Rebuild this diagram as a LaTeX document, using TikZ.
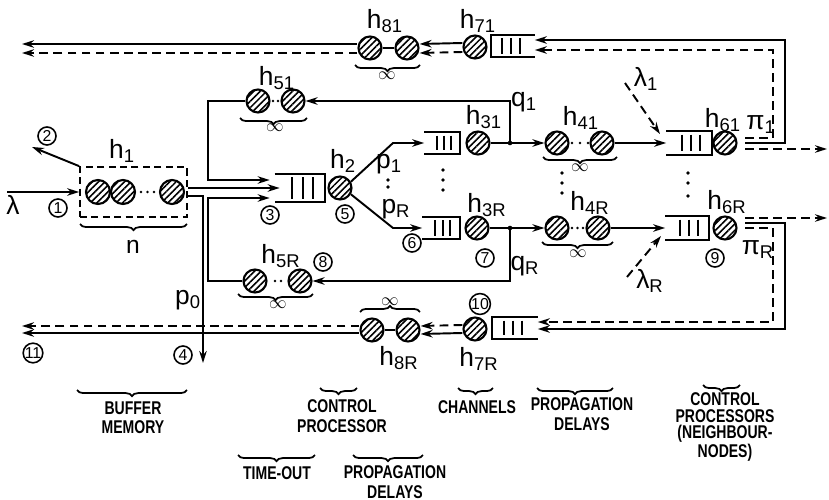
\documentclass[tikz,border=0pt]{standalone}
\usepackage{fontspec}
\setmainfont{Liberation Sans}
\newfontfamily\capfont[FakeStretch=0.76]{Liberation Sans}
\usetikzlibrary{arrows.meta,patterns.meta,decorations.pathreplacing,calc}
\tikzset{
  hc/.style={circle,draw,line width=1.2pt,minimum size=0.46cm,inner sep=0pt,
    pattern={Lines[angle=45,distance=2.6pt,line width=0.9pt]}},
  num/.style={circle,draw,line width=0.9pt,inner sep=0pt,minimum size=0.36cm,
    font=\fontsize{9}{9}\selectfont},
  lab/.style={font=\fontsize{15}{15}\selectfont,inner sep=0pt},
  captxt/.style={font=\capfont\bfseries\fontsize{10.5}{11}\selectfont,align=center,inner sep=0pt},
  ln/.style={line width=1.1pt},
  arr/.style={ln,-{Stealth[length=2.4mm,width=1.5mm]}},
  dsh/.style={dash pattern=on 5pt off 3pt},
  brc/.style={decorate,decoration={brace,amplitude=3.5pt},line width=1pt},
  inf/.style={font=\fontsize{10}{10}\selectfont,inner sep=0pt},
  qbox/.style 2 args={minimum width=#1,minimum height=#2,inner sep=0pt}
}
\newcommand\myqueueOL[5]{% open on the left
  \node[qbox={#4}{#5}] (#1) at (#2,#3) {};
  \draw[ln] (#1.north west) -- (#1.north east) -- (#1.south east) -- (#1.south west);
  \foreach \f in {0.35,0.55,0.75}{
    \draw[ln] ($(#1.north west)!\f!(#1.north east)+(0cm,-0.07cm)$) --
              ($(#1.south west)!\f!(#1.south east)+(0cm,0.07cm)$);}
}
\newcommand\myqueueOR[5]{% open on the right
  \node[qbox={#4}{#5}] (#1) at (#2,#3) {};
  \draw[ln] (#1.north east) -- (#1.north west) -- (#1.south west) -- (#1.south east);
  \foreach \f in {0.25,0.45,0.65}{
    \draw[ln] ($(#1.north west)!\f!(#1.north east)+(0cm,-0.07cm)$) --
              ($(#1.south west)!\f!(#1.south east)+(0cm,0.07cm)$);}
}
\begin{document}
\begin{tikzpicture}[x=0.02cm,y=-0.02cm]
\useasboundingbox (0,0) rectangle (829,500);

% ---------- buffer memory ----------
\node[draw,dash pattern=on 4pt off 2.5pt,line width=1pt,minimum width=2.14cm,minimum height=1.0cm,inner sep=0pt] (box) at (133.5,192) {};
\node[hc,minimum size=0.48cm] (b1) at (98,192) {};
\node[hc,minimum size=0.48cm] (b2) at (123,192) {};
\node[hc,minimum size=0.48cm] (b3) at (172,192) {};
\foreach \x in {141,147.5,154} \fill (\x,192) circle (0.8pt);
\node[lab] (lh1) at (122,151) {h\textsubscript{1}};
\draw[brc] (187,224) -- (80,224);
\node[lab,font=\fontsize{14}{14}\selectfont] (ln) at (133,247) {n};

\coordinate (lamin) at (7,192);
\draw[arr] (lamin) -- (box.west);
\node[lab] (llam) at (13,205) {λ};
\node[num] (n1) at (58,208) {1};
\coordinate (two) at (32,147);
\draw[arr] (box.north west) -- (two);
\node[num] (n2) at (47,136) {2};

% ---------- control processor ----------
\myqueueOL{Q3}{300}{188}{1.0cm}{0.56cm}
\node[hc] (h2c) at (340,188) {};
\node[lab] (lh2) at (343,161) {h\textsubscript{2}};
\node[num] (n3) at (270,215) {3};
\node[num] (n5) at (345,214) {5};
\draw[arr] (box.east |- Q3.west) -- ([xshift=0.1cm]Q3.west);

\coordinate (p0c) at (203,196);
\coordinate (four) at (203,363);
\draw[arr] (box.east |- p0c) -- (p0c) -- (four);
\node[lab] (lp0) at (188,300) {p\textsubscript{0}};
\node[num] (n4) at (183,355) {4};

% ---------- channels ----------
\myqueueOL{Q31}{442}{143}{0.7cm}{0.42cm}
\myqueueOL{Q3R}{441}{228}{0.74cm}{0.44cm}
\node[hc] (h31c) at (478,143) {};
\node[hc] (h3Rc) at (477,228) {};
\node[lab] (lh31) at (484,117) {h\textsubscript{31}};
\node[lab] (lh3R) at (487,205) {h\textsubscript{3R}};
\node[num] (n6) at (412,243) {6};
\node[num] (n7) at (485,258) {7};
\foreach \y in {170,180,190} \fill (443,\y) circle (1.1pt);

\coordinate (k1) at (393,143);
\coordinate (k3) at (393,228);
\draw[arr] (h2c.30) -- (k1) -- (Q31.west);
\draw[arr] (h2c.-30) -- (k3) -- (Q3R.west);
\node[lab] (lp1) at (389,164) {p\textsubscript{1}};
\foreach \y in {180,187} \fill (388,\y) circle (1.1pt);
\node[lab] (lpR) at (396,209) {p\textsubscript{R}};

% ---------- propagation delays ----------
\node[hc] (h41a) at (557,143) {};
\node[hc] (h41b) at (602,143) {};
\foreach \x in {572,580,588} \fill (\x,143) circle (0.8pt);
\node[hc] (h4Ra) at (557,228) {};
\node[hc] (h4Rb) at (598,228) {};
\foreach \x in {572,577.5,583} \fill (\x,228) circle (0.8pt);
\node[lab] (lh41) at (581,118) {h\textsubscript{41}};
\node[lab] (lh4R) at (590,203) {h\textsubscript{4R}};
\draw[brc] (617,157) -- (543,157);
\node[inf] (i41) at (580,168) {$\infty$};
\draw[brc] (613,242) -- (542,242);
\node[inf] (i4R) at (578,254) {$\infty$};
\foreach \y in {173,183,193} \fill (562,\y) circle (1.1pt);

\coordinate (j1) at (510,143);
\coordinate (j2) at (510,228);
\draw[ln] (h31c.east) -- (j1);
\draw[arr] (j1) -- (h41a.west);
\draw[ln] (h3Rc.east) -- (j2);
\draw[arr] (j2) -- (h4Ra.west);
\fill (j1) circle (1.3pt);
\fill (j2) circle (1.3pt);
\node[lab] (lq1) at (524,102) {q\textsubscript{1}};
\node[lab] (lqR) at (525,266) {q\textsubscript{R}};

% ---------- time-out ----------
\node[hc] (h51a) at (258,101) {};
\node[hc] (h51b) at (293,101) {};
\foreach \x in {273,278} \fill (\x,101) circle (0.8pt);
\node[lab] (lh51) at (277,78) {h\textsubscript{51}};
\draw[brc] (307,118) -- (240,118);
\node[inf] (i51) at (275,128) {$\infty$};

\node[hc] (h5Ra) at (255,281) {};
\node[hc] (h5Rb) at (300,281) {};
\foreach \x in {275,281} \fill (\x,281) circle (0.8pt);
\node[lab] (lh5R) at (281,256) {h\textsubscript{5R}};
\node[num] (n8) at (323,262) {8};
\draw[brc] (313,294) -- (238,294);
\node[inf] (i5R) at (278,305) {$\infty$};

\coordinate (lt) at (208,180);
\coordinate (lb) at (208,198);
\draw[arr] (j1) |- (h51b.east);
\draw[arr] (h51a.west) -| (lt) -- ([xshift=-0.1cm]lt -| Q3.west);
\draw[arr] (j2) |- (h5Rb.east);
\draw[arr] (h5Ra.west) -| (lb) -- ([xshift=-0.1cm]lb -| Q3.west);

% ---------- neighbour control processors ----------
\myqueueOL{Q61}{689}{143}{0.9cm}{0.46cm}
\myqueueOL{Q6R}{687}{228}{0.86cm}{0.46cm}
\node[hc] (h61c) at (725,143) {};
\node[hc] (h6Rc) at (725,228) {};
\node[lab] (lh61) at (723,120) {h\textsubscript{61}};
\node[lab] (lh6R) at (727,202) {h\textsubscript{6R}};
\node[num] (n9) at (715,258) {9};
\foreach \y in {173,183,196} \fill (688,\y) circle (1.1pt);
\draw[arr] (h41b.east) -- (Q61.west);
\draw[arr] (h4Rb.east) -- (Q6R.west);

\coordinate (l1s) at (625,83);
\coordinate (l1e) at (660,134);
\draw[arr,dsh] (l1s) -- (l1e);
\node[lab] (llam1) at (646,79) {λ\textsubscript{1}};
\coordinate (lRs) at (627,277);
\coordinate (lRe) at (661,236);
\draw[arr,dsh] (lRs) -- (lRe);
\node[lab] (llamR) at (650,281) {λ\textsubscript{R}};

\node[lab] (lpi1) at (761,125) {π\textsubscript{1}};
\node[lab] (lpiR) at (758,250) {π\textsubscript{R}};

% ---------- return channels ----------
\myqueueOR{Q71}{513}{46}{0.86cm}{0.44cm}
\myqueueOR{Q7R}{515}{328}{0.9cm}{0.42cm}
\node[hc] (h71c) at (475,47) {};
\node[hc] (h7Rc) at (475,329) {};
\node[lab] (lh71) at (478,21) {h\textsubscript{71}};
\node[lab] (lh7R) at (479,359) {h\textsubscript{7R}};
\node[num] (n10) at (480,304) {10};

\coordinate (a1) at (745,138);
\coordinate (a1v) at (773,50);
\draw[arr,dsh] (a1) -| (a1v) -- (a1v -| Q71.east);
\coordinate (a2) at (745,143);
\coordinate (a2v) at (785,40);
\draw[arr] (a2) -| (a2v) -- (a2v -| Q71.east);
\coordinate (a3) at (745,149);
\coordinate (a3e) at (827,149);
\draw[arr,dsh] (a3) -- (a3e);

\coordinate (r1) at (745,218);
\coordinate (r1e) at (827,218);
\draw[arr,dsh] (r1) -- (r1e);
\coordinate (r2) at (745,223);
\coordinate (r2v) at (785,329);
\draw[arr] (r2) -| (r2v) -- (r2v -| Q7R.east);
\coordinate (r3) at (745,228);
\coordinate (r3v) at (773,322);
\draw[arr,dsh] (r3) -| (r3v) -- (r3v -| Q7R.east);

% ---------- propagation delays back ----------
\node[hc] (h81a) at (370,48) {};
\node[hc] (h81b) at (407,48) {};
\draw[ln] (h81a) -- (h81b);
\node[lab] (lh81) at (385,21) {h\textsubscript{81}};
\draw[brc] (420,65) -- (355,65);
\node[inf] (i81) at (387,76) {$\infty$};
\draw[arr] ($(h71c.west)+(0,-4)$) -- ($(h81b.east)+(0,-4)$);
\draw[arr,dsh] ($(h71c.west)+(0,5)$) -- ($(h81b.east)+(0,5)$);
\coordinate (tl1) at (22,44);
\coordinate (tl2) at (22,53);
\draw[arr] (tl1 -| h81a.west) -- (tl1);
\draw[arr,dsh] (tl2 -| h81a.west) -- (tl2);

\node[hc] (h8Ra) at (372,330) {};
\node[hc] (h8Rb) at (408,330) {};
\draw[ln] (h8Ra) -- (h8Rb);
\node[lab] (lh8R) at (399,358) {h\textsubscript{8R}};
\draw[brc] (360,312) -- (420,312);
\node[inf] (i8R) at (390,302) {$\infty$};
\draw[arr,dsh] ($(h7Rc.west)+(0,-4)$) -- ($(h8Rb.east)+(0,-4)$);
\draw[arr] ($(h7Rc.west)+(0,4)$) -- ($(h8Rb.east)+(0,4)$);
\coordinate (bl1) at (22,326);
\coordinate (bl2) at (22,333);
\draw[arr,dsh] (bl1 -| h8Ra.west) -- (bl1);
\draw[arr] (bl2 -| h8Ra.west) -- (bl2);
\node[num] (n11) at (33,353) {11};

% ---------- captions ----------
\draw[brc] (187,390) -- (77,390);
\node[captxt] (cBM) at (133,418) {BUFFER\\MEMORY};
\draw[brc] (357,388) -- (320,388);
\node[captxt] (cCP) at (342,416) {CONTROL\\PROCESSOR};
\draw[brc] (315,455) -- (238,455);
\node[captxt] (cTO) at (277,473) {TIME-OUT};
\draw[brc] (423,455) -- (353,455);
\node[captxt] (cPD1) at (395,482) {PROPAGATION\\DELAYS};
\draw[brc] (493,388) -- (458,388);
\node[captxt] (cCH) at (477,407) {CHANNELS};
\draw[brc] (613,388) -- (537,388);
\node[captxt] (cPD2) at (582,414) {PROPAGATION\\DELAYS};
\draw[brc] (740,385) -- (703,385);
\node[captxt,font=\capfont\bfseries\fontsize{10.5}{9.2}\selectfont] (cCPS) at (725,427) {CONTROL\\PROCESSORS\\(NEIGHBOUR-\\NODES)};
\end{tikzpicture}
\end{document}
